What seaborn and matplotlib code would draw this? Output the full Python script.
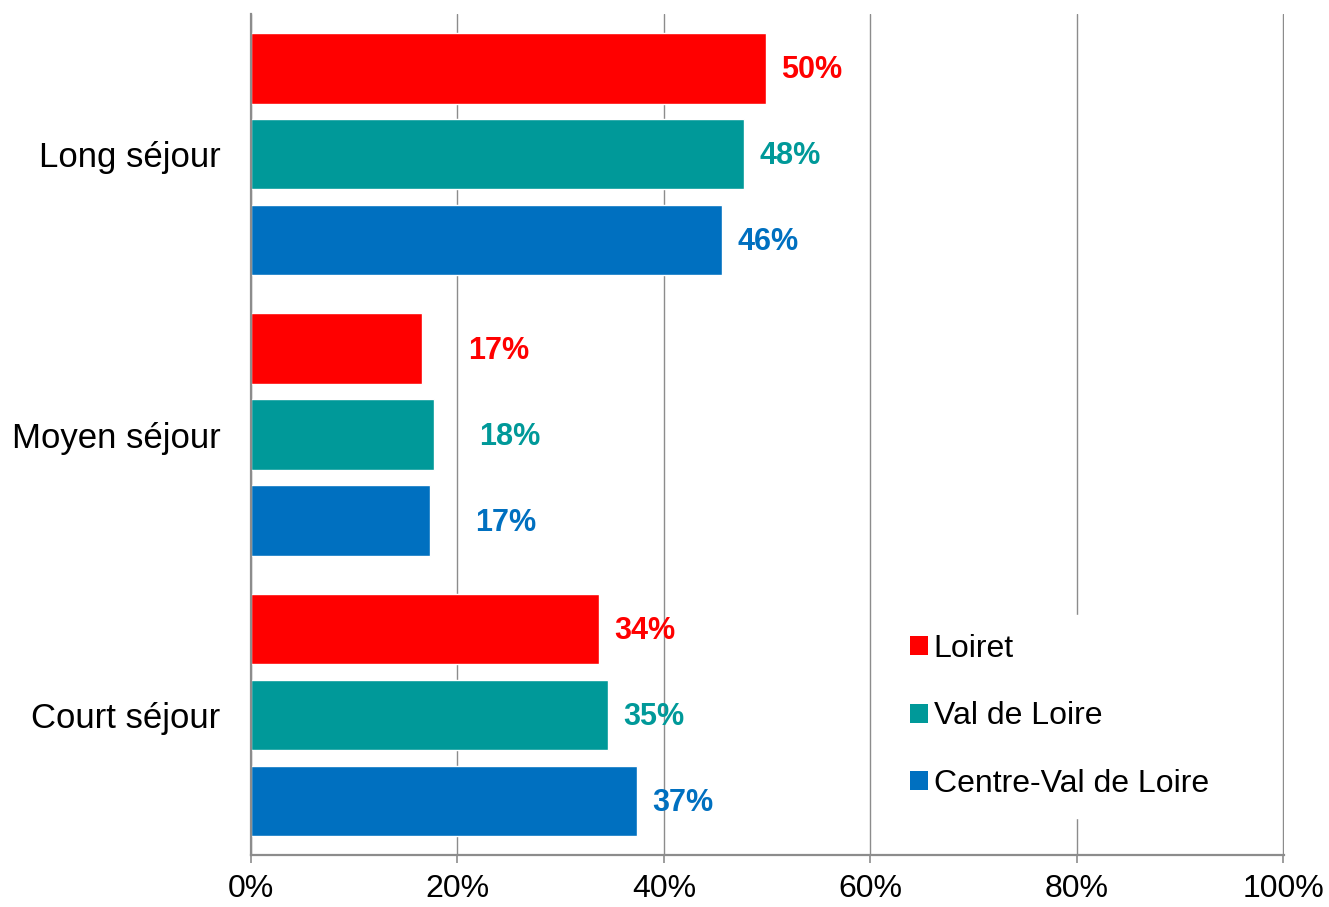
import pandas as pd
import seaborn as sns
import matplotlib.pyplot as plt
from matplotlib.patches import Patch

# Données (en %)
categories = ["Long séjour", "Moyen séjour", "Court séjour"]
zones = ["Loiret", "Val de Loire", "Centre-Val de Loire"]
loiret = [49.9, 16.6, 33.7]
val_de_loire = [47.8, 17.7, 34.6]
centre_vdl = [45.6, 17.3, 37.4]
xticks = [0, 20, 40, 60, 80, 100]
xtick_labels = ["0%", "20%", "40%", "60%", "80%", "100%"]

colors = ["#FF0000", "#009999", "#0070C0"]

df = pd.DataFrame({
    "categorie": categories * 3,
    "zone": [z for z in zones for _ in categories],
    "valeur": loiret + val_de_loire + centre_vdl,
})

sns.set_style("white")
plt.rcParams["font.family"] = ["Liberation Sans", "DejaVu Sans"]
plt.rcParams["text.color"] = "black"

fig = plt.figure(figsize=(13.29, 9.07), dpi=100)
ax = fig.add_axes([0.1889, 0.0573, 0.7773, 0.9272])

sns.barplot(
    data=df, x="valeur", y="categorie", hue="zone",
    order=categories, hue_order=zones, palette=colors,
    orient="h", width=0.92, gap=0.18, saturation=1,
    legend=False, ax=ax, zorder=2,
)

# Étiquettes de valeurs
for container, col in zip(ax.containers, colors):
    for bar in container:
        v = bar.get_width()
        yc = bar.get_y() + bar.get_height() / 2
        pad = 33 if v < 20 else 11  # décale au-delà de la ligne 20 %
        ax.annotate(f"{round(v)}%", (v, yc), xytext=(pad, -1.5),
                    textcoords="offset points", ha="left", va="center",
                    fontsize=22, fontweight="bold", color=col, zorder=4)

ax.set_xlim(0, 100.08)
ax.set_ylim(2.5, -0.5)
ax.set_xticks(xticks)
ax.set_xticklabels(xtick_labels, fontsize=23, color="black")
ax.tick_params(axis="x", direction="out", length=6, width=1.2,
               color="#8c8c8c", pad=8, bottom=True)
ax.tick_params(axis="y", length=0, pad=22, labelsize=25, labelcolor="black")
ax.set_xlabel("")
ax.set_ylabel("")

ax.grid(axis="x", color="#8c8c8c", linewidth=1.0, zorder=0)
ax.set_axisbelow(True)
for s in ["top", "right"]:
    ax.spines[s].set_visible(False)
for s in ["left", "bottom"]:
    ax.spines[s].set_color("#8c8c8c")
    ax.spines[s].set_linewidth(1.6)

handles = [Patch(facecolor=c, edgecolor="none") for c in colors]
leg = ax.legend(
    handles, zones, loc="lower left", bbox_to_anchor=(0.604, 0.025),
    frameon=True, fontsize=23, handlelength=0.55, handleheight=0.55,
    handletextpad=0.19, labelspacing=1.17, borderpad=0.6,
)
for t in leg.get_texts():
    t.set_color("black")
leg.get_frame().set_facecolor("white")
leg.get_frame().set_edgecolor("white")
leg.get_frame().set_alpha(1)
leg.set_zorder(5)

fig.savefig("out.png", dpi=100)
